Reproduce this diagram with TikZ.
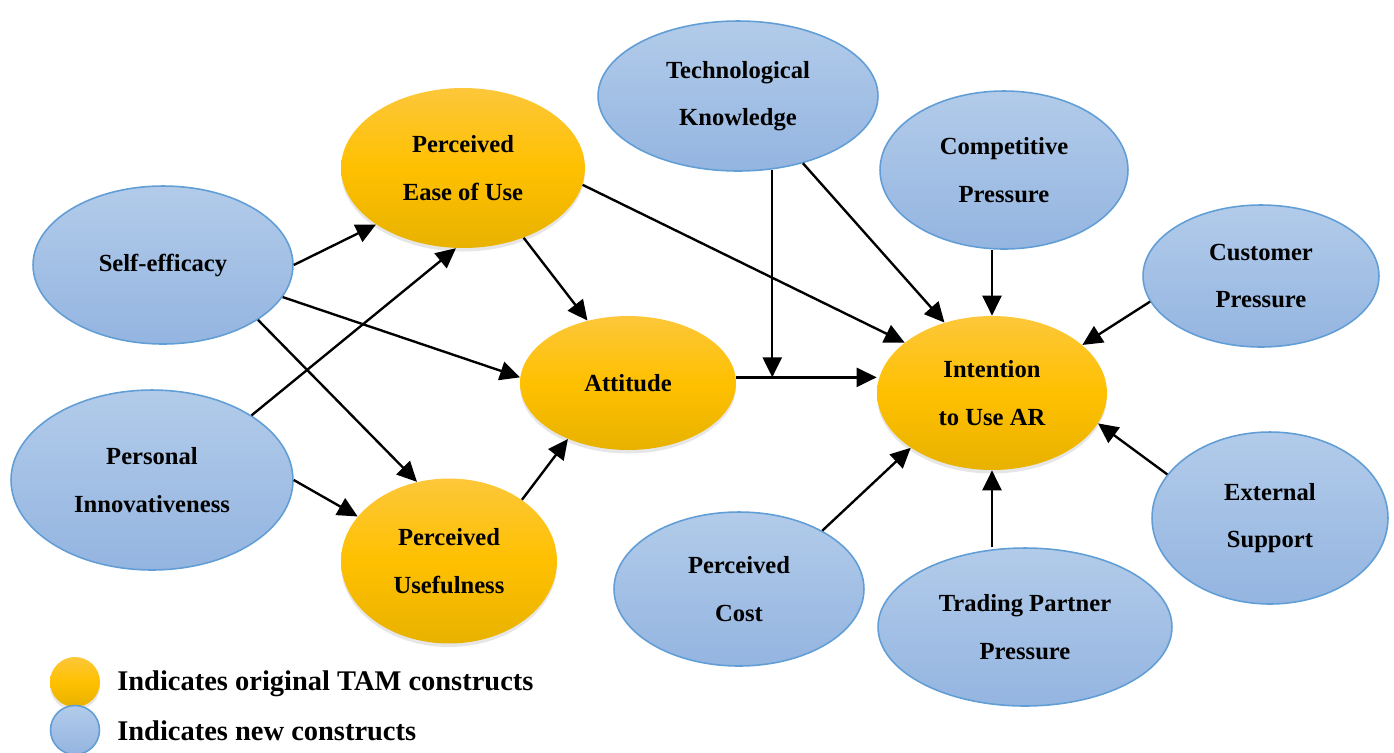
\documentclass[tikz,border=0pt]{standalone}
\usepackage{fontspec}
\setmainfont{Liberation Serif}
\usetikzlibrary{shapes.geometric,arrows.meta,shadows}

\definecolor{oratop}{RGB}{253,199,58}
\definecolor{oramid}{RGB}{255,192,0}
\definecolor{orabot}{RGB}{232,178,0}
\definecolor{blutop}{RGB}{178,203,233}
\definecolor{blubot}{RGB}{148,181,225}
\definecolor{bluline}{RGB}{98,158,214}

\begin{document}
\begin{tikzpicture}[x=0.02cm,y=-0.02cm,
  tam/.style={ellipse,top color=oratop,bottom color=orabot,middle color=oramid,
    drop shadow={shadow xshift=0pt,shadow yshift=-2pt,opacity=0.2},
    font=\fontsize{14}{27}\selectfont\bfseries,align=center,inner sep=0pt},
  newc/.style={ellipse,top color=blutop,bottom color=blubot,draw=bluline,line width=0.9pt,
    font=\fontsize{14}{27}\selectfont\bfseries,align=center,inner sep=0pt},
  arr/.style={line width=1.35pt,-{Triangle[length=0.4cm,width=0.38cm]}},
  legtxt/.style={anchor=west,font=\fontsize{16.2}{20}\selectfont\bfseries,inner sep=0pt}]

  \useasboundingbox (0,0) rectangle (1394,752);

  % original TAM constructs
  \node[tam,minimum width=4.88cm,minimum height=3.2cm] (peou) at (463,168) {Perceived\\Ease of Use};
  \node[tam,minimum width=4.32cm,minimum height=3.3cm] (pu) at (449,561) {Perceived\\Usefulness};
  \node[tam,minimum width=4.32cm,minimum height=2.68cm] (att) at (628,383) {Attitude};
  \node[tam,minimum width=4.6cm,minimum height=3.08cm] (int) at (992,393) {Intention\\to Use AR};

  % new constructs
  \node[newc,minimum width=5.2cm,minimum height=3.16cm] (self) at (163,265) {Self-efficacy};
  \node[newc,minimum width=5.64cm,minimum height=3.6cm] (pi) at (152,480) {Personal\\Innovativeness};
  \node[newc,minimum width=5.6cm,minimum height=3.0cm] (tk) at (738,96) {Technological\\Knowledge};
  \node[newc,minimum width=4.96cm,minimum height=3.16cm] (cp) at (1004,170) {Competitive\\Pressure};
  \node[newc,minimum width=4.72cm,minimum height=2.84cm] (cup) at (1261,276) {Customer\\Pressure};
  \node[newc,minimum width=4.72cm,minimum height=3.44cm] (es) at (1270,518) {External\\Support};
  \node[newc,minimum width=5.88cm,minimum height=3.16cm] (tp) at (1025,627) {Trading Partner\\Pressure};
  \node[newc,minimum width=5.0cm,minimum height=3.08cm] (pc) at (739,589) {Perceived\\Cost};

  % paths
  \draw[arr] (self.0) -- (peou.213);
  \draw[arr] (self.-15) -- (att.177);
  \draw[arr] (self.-30) -- (pu.112);
  \draw[arr] (pi.33) -- (peou.265);
  \draw[arr] (pi.0) -- (pu.154);
  \draw[arr] (peou.-49) -- (att.123);
  \draw[arr] (peou.-8) -- (int.150);
  \draw[arr] (pu.40) -- (att.223);
  \draw[arr] (att.3) -- (att.3 -| int.west);
  \draw[arr] (tk.-65) -- (tk.-65 |- att.3);
  \draw[arr] (tk.-46) -- (int.124);
  \draw[arr] (cp.south -| int.north) -- (int.north);
  \draw[arr] (cup.193) -- (int.28);
  \draw[arr] (es.157) -- (int.-16);
  \draw[arr] (tp.north -| int.south) -- (int.south);
  \draw[arr] (pc.35) -- (int.214);

  % legend
  \node[tam,circle,minimum size=1.0cm] (legtam) at (75,682) {};
  \node[newc,circle,minimum size=0.98cm] (legnew) at (75,730) {};
  \node[legtxt] (legtamtxt) at (117,684) {Indicates original TAM constructs};
  \node[legtxt] (legnewtxt) at (117,731) {Indicates new constructs};
\end{tikzpicture}
\end{document}
